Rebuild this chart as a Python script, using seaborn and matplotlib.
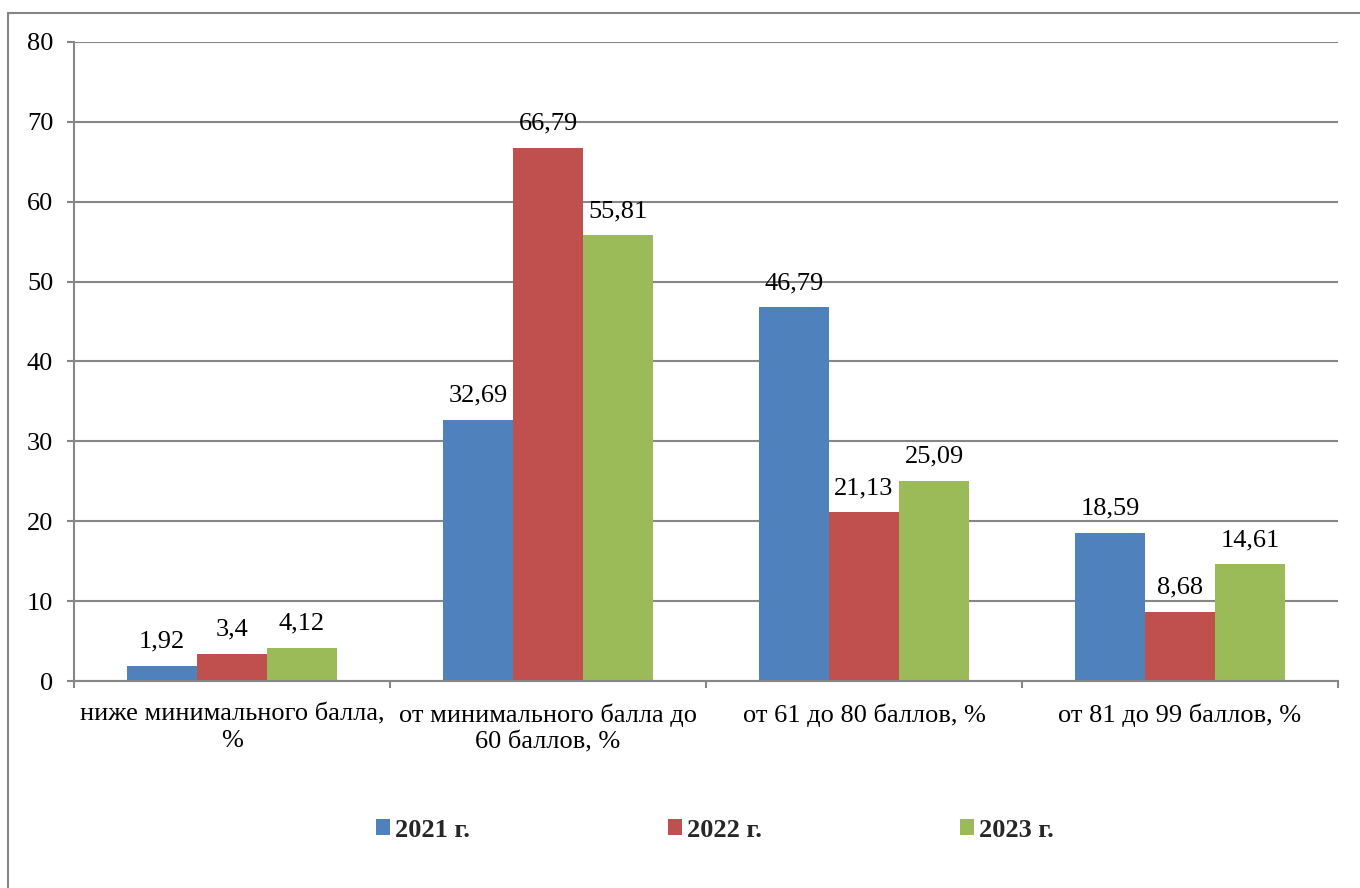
import matplotlib
matplotlib.use("Agg")
import matplotlib.pyplot as plt
import seaborn as sns
import pandas as pd
from matplotlib.patches import Patch
from matplotlib.lines import Line2D

categories = ["ниже минимального балла,\n%", "от минимального балла до\n60 баллов, %",
              "от 61 до 80 баллов, %", "от 81 до 99 баллов, %"]
years = ["2021 г.", "2022 г.", "2023 г."]
v2021 = [1.92, 32.69, 46.79, 18.59]
v2022 = [3.4, 66.79, 21.13, 8.68]
v2023 = [4.12, 55.81, 25.09, 14.61]
colors = ["#4F81BD", "#C0504D", "#9BBB59"]

rows = []
for y, vals in zip(years, [v2021, v2022, v2023]):
    for c, v in zip(categories, vals):
        rows.append({"cat": c, "year": y, "val": v})
df = pd.DataFrame(rows)

sns.set_theme(style="white")
plt.rcParams["font.family"] = ["Liberation Serif", "DejaVu Serif"]

FS = 19
fig = plt.figure(figsize=(13.6, 8.88), dpi=100)
ax = fig.add_axes([74/1360, 1-681/888, (1338-74)/1360, (681-42)/888])

sns.barplot(data=df, x="cat", y="val", hue="year", order=categories, hue_order=years,
            palette=colors, width=0.665, gap=0, ax=ax, legend=False, saturation=1,
            edgecolor="none", linewidth=0)

for cont, vals in zip(ax.containers, [v2021, v2022, v2023]):
    labels = [f"{v:g}".replace(".", ",") for v in vals]
    ax.bar_label(cont, labels=labels, padding=9.5, fontsize=FS, color="black")

grid_c = "#868686"
ax.set_ylim(0, 80)
ax.set_xlim(-0.5, 3.5)
ax.set_yticks(range(0, 81, 10))
ax.yaxis.grid(True, color=grid_c, linewidth=1.5)
ax.set_axisbelow(True)
ax.set_xlabel("")
ax.set_ylabel("")
for s in ["top", "right"]:
    ax.spines[s].set_visible(False)
for s in ["left", "bottom"]:
    ax.spines[s].set_color(grid_c)
    ax.spines[s].set_linewidth(1.5)
ax.tick_params(axis="y", labelsize=FS, colors=grid_c, labelcolor="black", length=5,
               width=1.5, direction="out", left=True, pad=10)
ax.tick_params(axis="x", which="major", length=0, labelsize=FS, labelcolor="black", pad=16)
for lbl in ax.get_xticklabels():
    lbl.set_linespacing(1.25)
ax.set_xticks([-0.5, 0.5, 1.5, 2.5, 3.5], minor=True)
ax.tick_params(axis="x", which="minor", length=5, width=1.5, colors=grid_c, direction="out", bottom=True)

# outer chart frame
fig.add_artist(Line2D([8/1360, 8/1360], [0, 1-13/888], transform=fig.transFigure,
                      color=grid_c, linewidth=1.5))
fig.add_artist(Line2D([8/1360, 1], [1-13/888, 1-13/888], transform=fig.transFigure,
                      color=grid_c, linewidth=1.5))

handles = [Patch(facecolor=c, edgecolor="none") for c in colors]
fig.legend(handles, years, loc="center", bbox_to_anchor=(715/1360, 1-830/888), ncol=3,
           frameon=False, prop={"size": FS, "weight": "bold"}, handlelength=0.53,
           handleheight=0.53, handletextpad=0.2, columnspacing=7.5)

fig.savefig("out.png", dpi=100)
